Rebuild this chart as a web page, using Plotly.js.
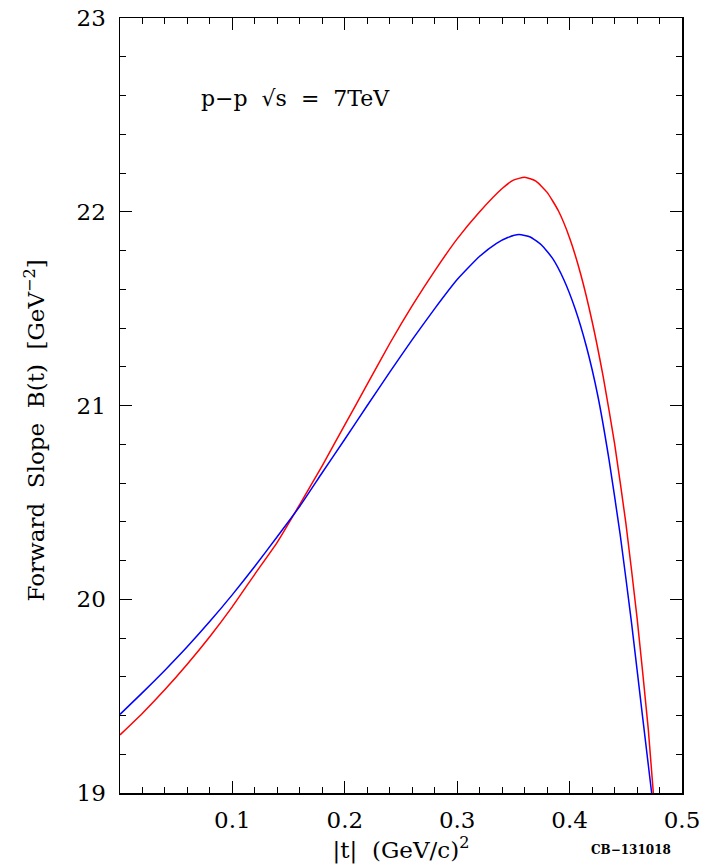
<!DOCTYPE html>
<html>
<head>
<meta charset="utf-8">
<script src="https://cdn.plot.ly/plotly-3.0.1.min.js"></script>
<style>
html,body{margin:0;padding:0;background:#fff;}
#chart{width:708px;height:868px;}
</style>
</head>
<body>
<div id="chart"></div>
<script>
// |t| (GeV/c)^2 and forward slope B(t) [GeV^-2]
var tRed  = [0, 0.02, 0.04, 0.06, 0.08, 0.10, 0.12, 0.14, 0.16, 0.18, 0.20, 0.22, 0.24, 0.26, 0.28, 0.30, 0.32, 0.34, 0.35, 0.36, 0.37, 0.38, 0.39, 0.40, 0.41, 0.42, 0.43, 0.44, 0.45, 0.46, 0.47, 0.4745];
var bRed  = [19.300, 19.412, 19.534, 19.666, 19.808, 19.962, 20.130, 20.295, 20.490, 20.690, 20.900, 21.110, 21.320, 21.515, 21.695, 21.860, 22.000, 22.120, 22.163, 22.178, 22.158, 22.100, 22.005, 21.865, 21.675, 21.435, 21.145, 20.805, 20.395, 19.905, 19.330, 19.000];

var tBlue = [0, 0.02, 0.04, 0.06, 0.08, 0.10, 0.12, 0.14, 0.16, 0.18, 0.20, 0.22, 0.24, 0.26, 0.28, 0.30, 0.32, 0.335, 0.345, 0.355, 0.365, 0.375, 0.385, 0.395, 0.405, 0.415, 0.425, 0.435, 0.445, 0.455, 0.465, 0.473];
var bBlue = [19.406, 19.518, 19.634, 19.756, 19.886, 20.024, 20.170, 20.324, 20.480, 20.654, 20.826, 21.000, 21.172, 21.340, 21.500, 21.650, 21.770, 21.837, 21.867, 21.882, 21.870, 21.828, 21.758, 21.648, 21.498, 21.303, 21.053, 20.723, 20.333, 19.883, 19.390, 19.000];

var xTickVals = [0.1, 0.2, 0.3, 0.4, 0.5];
var xTickText = ["0.1", "0.2", "0.3", "0.4", "0.5"];
var yTickVals = [19, 20, 21, 22, 23];
var yTickText = ["19", "20", "21", "22", "23"];

var serif = "DejaVu Serif, Liberation Serif, serif";

var traces = [
  {x: tRed, y: bRed, mode: "lines", line: {color: "#ff0000", width: 1.5, shape: "spline", smoothing: 0.5}, showlegend: false, hoverinfo: "skip"},
  {x: tBlue, y: bBlue, mode: "lines", line: {color: "#0000ff", width: 1.5, shape: "spline", smoothing: 0.5}, showlegend: false, hoverinfo: "skip"}
];

var layout = {
  width: 708, height: 868,
  margin: {l: 120, r: 26, t: 18, b: 75},
  paper_bgcolor: "#fff", plot_bgcolor: "#fff",
  font: {family: serif, color: "#000", size: 23},
  xaxis: {
    range: [0, 0.5],
    tickmode: "array", tickvals: xTickVals, ticktext: xTickText,
    ticks: "inside", ticklen: 12, tickwidth: 1, tickcolor: "#000",
    showline: true, linecolor: "#000", linewidth: 1.5, mirror: "allticks",
    showgrid: false, zeroline: false,
    tickfont: {family: serif, size: 23},
    ticklabelstandoff: 6,
    minor: {tickmode: "linear", tick0: 0, dtick: 0.02, ticks: "inside", ticklen: 6, tickwidth: 1, tickcolor: "#000", showgrid: false},
    title: {text: "|t|  (GeV/c)<sup>2</sup>", font: {family: serif, size: 23}, standoff: 2}
  },
  yaxis: {
    range: [19, 23],
    tickmode: "array", tickvals: yTickVals, ticktext: yTickText,
    ticks: "inside", ticklen: 12, tickwidth: 1, tickcolor: "#000",
    showline: true, linecolor: "#000", linewidth: 1.5, mirror: "allticks",
    showgrid: false, zeroline: false,
    tickfont: {family: serif, size: 23},
    ticklabelstandoff: 8,
    minor: {tickmode: "linear", tick0: 19, dtick: 0.2, ticks: "inside", ticklen: 6, tickwidth: 1, tickcolor: "#000", showgrid: false}
  },
  annotations: [
    {xref: "paper", yref: "paper", x: -0.151, y: 0.468, xanchor: "center", yanchor: "middle", showarrow: false, textangle: -90,
     text: "Forward  Slope  B(t)  [GeV<sup>−2</sup>]", font: {family: serif, size: 23}},
    {xref: "paper", yref: "paper", x: 0.14, y: 0.896, xanchor: "left", yanchor: "middle", showarrow: false,
     text: "p−p  √s  =  7TeV", font: {family: serif, size: 22}},
    {xref: "paper", yref: "paper", x: 0.909, y: -0.073, xanchor: "center", yanchor: "middle", showarrow: false,
     text: "<b>CB−131018</b>", font: {family: serif, size: 12}}
  ]
};

Plotly.newPlot("chart", traces, layout, {staticPlot: true, displayModeBar: false});
</script>
</body>
</html>
